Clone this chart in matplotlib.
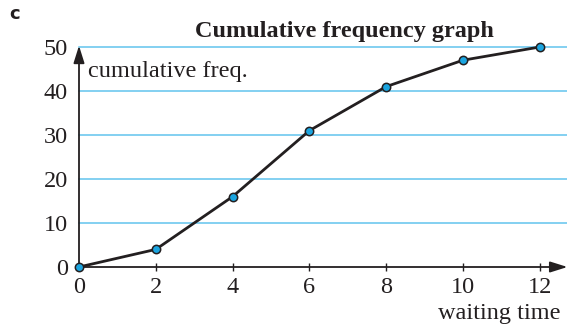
import matplotlib
matplotlib.use('Agg')
import matplotlib.pyplot as plt

# data
waiting_time = [0, 2, 4, 6, 8, 10, 12]
cum_freq = [0, 4, 16, 31, 41, 47, 50]
x_ticks = [0, 2, 4, 6, 8, 10, 12]
y_ticks = [0, 10, 20, 30, 40, 50]

plt.rcParams['font.family'] = ['Liberation Serif', 'DejaVu Serif']

fig = plt.figure(figsize=(5.67, 3.26), dpi=100)
ax = fig.add_axes([79/567, 1 - 267/326, 1 - 79/567, (267 - 47)/326])

grid_col = '#62c4ee'
for yv in y_ticks[1:]:
    ax.axhline(yv, color=grid_col, lw=1.1, zorder=1, clip_on=False)

ax.set_xlim(0, (567 - 79) / 38.4)
ax.set_ylim(0, 50)
for s in ax.spines.values():
    s.set_visible(False)

# axes with arrows
arrow = dict(arrowstyle='-|>,head_length=0.7,head_width=0.22', color='#231f20',
             lw=1.3, mutation_scale=15, shrinkA=0, shrinkB=0)
ax.annotate('', xy=(12.72, 0), xytext=(0, 0), arrowprops=arrow,
            annotation_clip=False, zorder=3)
ax.annotate('', xy=(0, 50.3), xytext=(0, 0), arrowprops=arrow,
            annotation_clip=False, zorder=3)

ax.plot(waiting_time, cum_freq, color='#231f20', lw=2, zorder=4,
        marker='o', markersize=6, markerfacecolor='#1ba5e0',
        markeredgecolor='#231f20', markeredgewidth=1.1, clip_on=False)

ax.set_xticks(x_ticks)
ax.set_yticks(y_ticks)
ax.tick_params(axis='x', direction='inout', length=6, width=1, color='#231f20',
               labelsize=17.5, pad=4)
ax.tick_params(axis='y', length=0, labelsize=17.5, pad=8)
for lab in ax.get_xticklabels() + ax.get_yticklabels():
    lab.set_color('#231f20')

ax.text(0.23, 44.4, 'cumulative freq.', fontsize=17.5, color='#231f20',
        va='center', ha='left')
fig.text(561/567, 1 - 319/326, 'waiting time', fontsize=17.5, color='#231f20',
         va='baseline', ha='right')
fig.text(344/567, 1 - 37/326, 'Cumulative frequency graph', fontsize=17.5,
         fontweight='bold', color='#231f20', ha='center', va='baseline')
fig.text(9/567, 1 - 14/326, 'c', fontsize=13, fontweight='bold',
         family='DejaVu Sans', color='#231f20', ha='left', va='center')

fig.savefig('out.png', dpi=100)
